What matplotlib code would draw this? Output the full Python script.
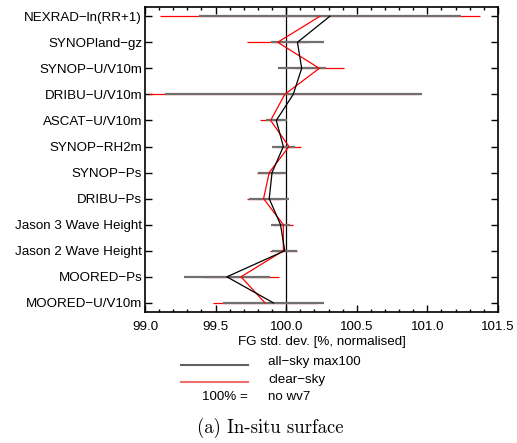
import numpy as np
import matplotlib
matplotlib.use('Agg')
import matplotlib.pyplot as plt
from matplotlib.ticker import MultipleLocator, FormatStrFormatter

plt.rcParams['font.family'] = ['Liberation Sans', 'DejaVu Sans']
fs = 9.6

# observation types (top to bottom)
labels = ['NEXRAD−ln(RR+1)', 'SYNOPland−gz', 'SYNOP−U/V10m', 'DRIBU−U/V10m',
          'ASCAT−U/V10m', 'SYNOP−RH2m', 'SYNOP−Ps', 'DRIBU−Ps',
          'Jason 3 Wave Height', 'Jason 2 Wave Height', 'MOORED−Ps', 'MOORED−U/V10m']

# all-sky max100
allsky = [100.31, 100.08, 100.11, 100.05, 99.93, 99.98, 99.90, 99.88, 99.96, 99.99, 99.58, 99.91]
allsky_err = [0.93, 0.19, 0.17, 0.91, 0.075, 0.08, 0.10, 0.14, 0.07, 0.087, 0.306, 0.36]

# clear-sky
clear = [100.24, 99.94, 100.235, 99.99, 99.89, 100.02, 99.88, 99.84, 99.98, 99.98, 99.68, 99.85]
clear_err = [1.135, 0.216, 0.177, 0.96, 0.078, 0.082, 0.09, 0.12, 0.07, 0.095, 0.267, 0.366]

y = np.arange(len(labels))

fig = plt.figure(figsize=(5.17, 4.43), dpi=100)
ax = fig.add_axes([0.2805, 0.2957, 0.9630 - 0.2805, 0.984 - 0.2957])

ax.axvline(100.0, color='black', lw=0.9, zorder=1)

# error bars
ax.hlines(y, np.array(clear) - clear_err, np.array(clear) + clear_err, color='red', lw=0.9, zorder=2)
ax.hlines(y, np.array(allsky) - allsky_err, np.array(allsky) + allsky_err, color='#707070', lw=1.6, zorder=3)

ax.plot(clear, y, color='red', lw=0.9, zorder=4)
ax.plot(allsky, y, color='black', lw=0.9, zorder=5)

ax.set_xlim(99.0, 101.5)
ax.set_ylim(len(labels) - 1 + 0.35, -0.35)
ax.set_yticks(y)
ax.set_yticklabels(labels, fontsize=fs)
ax.xaxis.set_major_locator(MultipleLocator(0.5))
ax.xaxis.set_minor_locator(MultipleLocator(0.1))
ax.xaxis.set_major_formatter(FormatStrFormatter('%.1f'))
ax.tick_params(axis='both', which='both', direction='in', top=True, right=True, labelsize=fs)
ax.tick_params(axis='both', which='major', length=5, width=1)
ax.tick_params(axis='x', which='minor', length=2.5, width=1)
ax.tick_params(axis='x', pad=6.5)
ax.tick_params(axis='y', pad=2)
for s in ax.spines.values():
    s.set_linewidth(1.2)
ax.set_xlabel('FG std. dev. [%, normalised]', fontsize=fs, labelpad=2)

# legend drawn below the axes
fig.add_artist(plt.Line2D([181 / 517, 248 / 517], [1 - 365 / 443] * 2, color='#606060', lw=1.5))
fig.add_artist(plt.Line2D([181 / 517, 248 / 517], [1 - 382 / 443] * 2, color='#f07070', lw=1.5))
fig.text(268 / 517, 1 - 362 / 443, 'all−sky max100', fontsize=fs, va='center')
fig.text(268 / 517, 1 - 380 / 443, 'clear−sky', fontsize=fs, va='center')
fig.text(248 / 517, 1 - 397 / 443, '100% =', fontsize=fs, va='center', ha='right')
fig.text(268 / 517, 1 - 397 / 443, 'no wv7', fontsize=fs, va='center')

fig.text(270 / 517, 1 - 428 / 443, '(a) In-situ surface', fontsize=13.5, va='center', ha='center',
         family=['cmr10', 'DejaVu Serif'])

fig.savefig('out.png', dpi=100)
